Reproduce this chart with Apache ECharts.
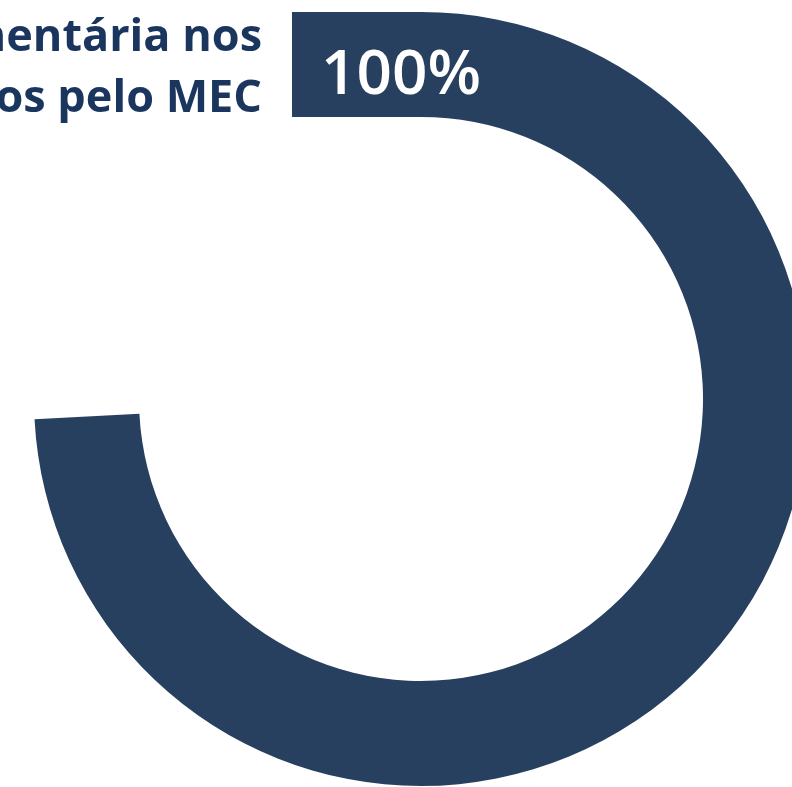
<!DOCTYPE html>
<html>
<head>
<meta charset="utf-8">
<script src="https://cdn.jsdelivr.net/npm/echarts@6/dist/echarts.min.js"></script>
<style>
html,body{margin:0;padding:0;background:#ffffff;}
#chart{width:792px;height:787px;}
</style>
</head>
<body>
<div id="chart"></div>
<script>
// Data
const titleLines = ['orçamentária nos', 'os pelo MEC'];
const seriesName = ['Execução'];
const seriesValues = [100];
const scaleMin = 0;
const scaleMax = 100;

const ringColor = '#28405f';
const titleColor = '#1b365e';

const chart = echarts.init(document.getElementById('chart'), null, {renderer: 'canvas'});

const option = {
  animation: false,
  backgroundColor: '#ffffff',
  graphic: [
    {
      type: 'rect',
      shape: {x: 292, y: 12, width: 131, height: 105},
      style: {fill: ringColor},
      z: 1
    },
    {
      type: 'text',
      style: {
        x: 262, y: 38, text: titleLines[0],
        font: 'bold 45px "Open Sans"', fill: titleColor,
        align: 'right', verticalAlign: 'middle'
      }
    },
    {
      type: 'text',
      style: {
        x: 262, y: 99, text: titleLines[1],
        font: 'bold 45px "Open Sans"', fill: titleColor,
        align: 'right', verticalAlign: 'middle'
      }
    },
    {
      type: 'text',
      z: 100,
      style: {
        x: 401, y: 76, text: seriesValues[0] + '%',
        font: '600 62px "Open Sans"', fill: '#ffffff',
        align: 'center', verticalAlign: 'middle'
      }
    }
  ],
  series: [{
    type: 'gauge',
    name: seriesName[0],
    center: [421, 399],
    radius: 387,
    startAngle: 90,
    endAngle: -177,
    min: scaleMin,
    max: scaleMax,
    z: 3,
    progress: {show: true, width: 105, roundCap: false, itemStyle: {color: ringColor}},
    axisLine: {show: false, lineStyle: {width: 105}},
    axisTick: {show: false},
    splitLine: {show: false},
    axisLabel: {show: false},
    pointer: {show: false},
    anchor: {show: false},
    title: {show: false},
    detail: {show: false},
    data: [{value: seriesValues[0], name: seriesName[0]}]
  }]
};
chart.setOption(option);
</script>
</body>
</html>
